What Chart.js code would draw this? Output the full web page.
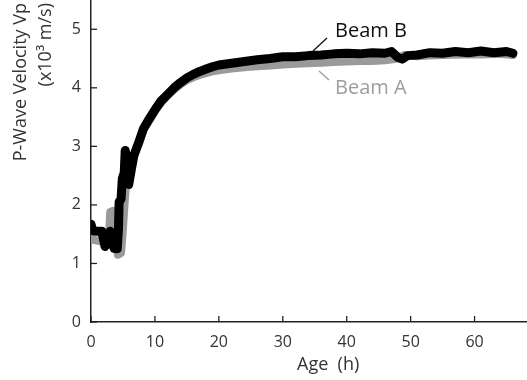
<!DOCTYPE html>
<html>
<head>
<meta charset="utf-8">
<script src="https://cdn.jsdelivr.net/npm/chart.js@4/dist/chart.umd.min.js"></script>
<style>
  html, body { margin: 0; padding: 0; background: #fff; }
</style>
</head>
<body>
<canvas id="chart" width="527" height="380"></canvas>
<script>
// Beam B (black) - age in hours, Vp in 10^3 m/s
const beamBAge = [0, 0.3, 1.0, 1.7, 2.2, 2.6, 3.0, 3.3, 3.6, 4.1, 4.3, 4.4, 4.7, 4.9, 5.2, 5.35, 5.6, 5.9, 6.3, 6.7,
  7.5, 8.2, 9.0, 10.1, 11, 12.1, 13, 14, 15, 16, 17, 18, 19, 20, 22, 24, 26, 28, 30, 32, 34, 36, 38, 40,
  42, 44, 46, 47, 48, 48.7, 49.5, 51, 53, 55, 57, 59, 61, 63, 65, 66];
const beamBVp = [1.67, 1.56, 1.55, 1.55, 1.29, 1.35, 1.55, 1.40, 1.26, 1.25, 1.60, 2.05, 2.10, 2.45, 2.55, 2.93, 2.80, 2.35, 2.60, 2.84,
  3.08, 3.30, 3.45, 3.64, 3.78, 3.90, 4.00, 4.09, 4.17, 4.23, 4.28, 4.32, 4.36, 4.39, 4.42, 4.45, 4.48, 4.50, 4.53, 4.53, 4.55, 4.56, 4.58, 4.59,
  4.58, 4.60, 4.59, 4.62, 4.52, 4.49, 4.55, 4.56, 4.60, 4.59, 4.62, 4.60, 4.63, 4.60, 4.62, 4.59];

// Beam A (grey)
const beamAAge = [0, 0.5, 1.5, 2.5, 2.8, 3.0, 3.5, 3.8, 4.2, 4.7, 5.0, 5.3, 5.6, 6.0, 6.5, 7.5, 8.2, 9.0, 10, 11,
  12, 13, 14, 15, 16, 17, 18, 19, 20, 22, 24, 26, 28, 30, 32, 34, 36, 38, 40, 42, 44, 46, 48, 49,
  51, 53, 55, 58, 61, 64, 66];
const beamAVp = [1.45, 1.40, 1.38, 1.40, 1.40, 1.88, 1.90, 1.50, 1.15, 1.18, 1.60, 2.10, 2.50, 2.55, 2.80, 3.05, 3.28, 3.42, 3.60, 3.75,
  3.87, 3.97, 4.06, 4.13, 4.18, 4.22, 4.25, 4.28, 4.30, 4.33, 4.35, 4.37, 4.38, 4.40, 4.41, 4.42, 4.43, 4.44, 4.45, 4.46, 4.46, 4.47, 4.50, 4.56,
  4.54, 4.55, 4.56, 4.57, 4.57, 4.58, 4.56];

const xTicksStep = 10;
const yTicksStep = 1;

const FONT = "'Open Sans', 'Noto Sans', sans-serif";
const TEXT = '#333';

function toPoints(xs, ys) {
  return xs.map((x, i) => ({ x: x, y: ys[i] }));
}

// inward ticks + titles + labels
const extras = {
  id: 'extras',
  afterDraw(chart) {
    const { ctx, chartArea, scales } = chart;
    ctx.save();
    ctx.strokeStyle = '#222';
    ctx.lineWidth = 1.3;
    scales.x.ticks.forEach(t => {
      const px = scales.x.getPixelForValue(t.value);
      ctx.beginPath();
      ctx.moveTo(px, chartArea.bottom);
      ctx.lineTo(px, chartArea.bottom - 6);
      ctx.stroke();
    });
    scales.y.ticks.forEach(t => {
      const py = scales.y.getPixelForValue(t.value);
      ctx.beginPath();
      ctx.moveTo(chartArea.left, py);
      ctx.lineTo(chartArea.left + 6, py);
      ctx.stroke();
    });

    // axis titles
    ctx.fillStyle = TEXT;
    ctx.font = '18px ' + FONT;
    ctx.textBaseline = 'alphabetic';
    ctx.textAlign = 'left';
    ctx.fillText('Age  (h)', 297, 370);

    ctx.save();
    ctx.translate(26, 3);
    ctx.rotate(-Math.PI / 2);
    ctx.textAlign = 'right';
    ctx.fillText('P-Wave Velocity Vp', 0, 0);
    ctx.restore();
    ctx.save();
    ctx.translate(51, 3);
    ctx.rotate(-Math.PI / 2);
    ctx.textAlign = 'right';
    ctx.fillText('(x10³ m/s)', 0, 0);
    ctx.restore();

    // series labels with leader lines
    ctx.font = '20px ' + FONT;
    ctx.textAlign = 'left';
    ctx.fillStyle = '#111';
    ctx.fillText('Beam B', 335, 37);
    ctx.strokeStyle = '#111';
    ctx.lineWidth = 1.3;
    ctx.beginPath();
    ctx.moveTo(313, 51);
    ctx.lineTo(327, 38);
    ctx.stroke();

    ctx.fillStyle = '#9d9d9d';
    ctx.fillText('Beam A', 335, 94);
    ctx.strokeStyle = '#9d9d9d';
    ctx.beginPath();
    ctx.moveTo(319, 71);
    ctx.lineTo(329, 80);
    ctx.stroke();
    ctx.restore();
  }
};

const ctx = document.getElementById('chart').getContext('2d');
const chart = new Chart(ctx, {
  type: 'line',
  data: {
    datasets: [
      {
        label: 'Beam B',
        data: toPoints(beamBAge, beamBVp),
        borderColor: '#000',
        borderWidth: 9,
        pointRadius: 0,
        tension: 0,
        borderJoinStyle: 'round',
        borderCapStyle: 'round',
      },
      {
        label: 'Beam A',
        data: toPoints(beamAAge, beamAVp),
        borderColor: '#9a9a9a',
        borderWidth: 8,
        pointRadius: 0,
        tension: 0,
        borderJoinStyle: 'round',
        borderCapStyle: 'round',
      },
    ],
  },
  options: {
    responsive: false,
    devicePixelRatio: 1,
    animation: false,
    layout: { padding: 0 },
    plugins: {
      legend: { display: false },
      tooltip: { enabled: false },
    },
    scales: {
      x: {
        type: 'linear',
        min: 0,
        max: 68.2,
        afterFit: s => { s.height = 58; s.paddingLeft = 0; s.paddingRight = 0; },
        ticks: {
          stepSize: xTicksStep,
          includeBounds: false,
          color: TEXT,
          font: { family: FONT, size: 16 },
          padding: 11,
          maxRotation: 0,
        },
        grid: { drawOnChartArea: false, drawTicks: false },
        border: { display: true, color: '#222', width: 1.5 },
      },
      y: {
        type: 'linear',
        min: 0,
        max: 5.5,
        afterFit: s => { s.width = 91; s.paddingTop = 0; s.paddingBottom = 0; },
        ticks: {
          stepSize: yTicksStep,
          includeBounds: false,
          color: TEXT,
          font: { family: FONT, size: 16 },
          padding: 10,
        },
        grid: { drawOnChartArea: false, drawTicks: false },
        border: { display: true, color: '#222', width: 1.5 },
      },
    },
  },
  plugins: [extras],
});
</script>
</body>
</html>
